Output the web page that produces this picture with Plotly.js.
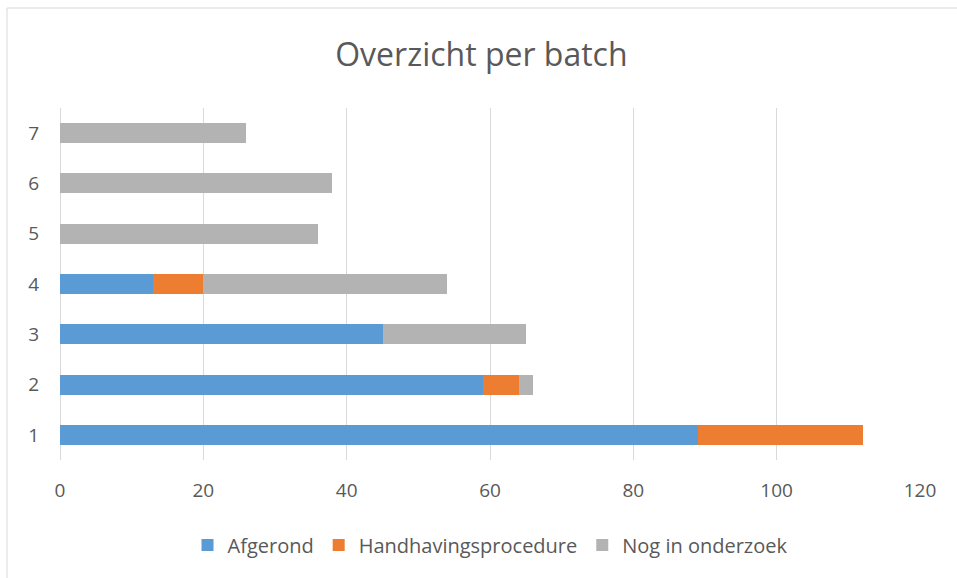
<!DOCTYPE html>
<html>
<head>
<meta charset="utf-8">
<script src="https://cdn.plot.ly/plotly-3.0.1.min.js"></script>
<style>html,body{margin:0;padding:0;background:#fff;}#chart{width:957px;height:578px;}</style>
</head>
<body>
<div id="chart"></div>
<script>
var batches = ['1', '2', '3', '4', '5', '6', '7'];
var afgerond = [89, 59, 45, 13, 0, 0, 0];
var handhaving = [23, 5, 0, 7, 0, 0, 0];
var onderzoek = [0, 2, 20, 34, 36, 38, 26];
var seriesNames = ['Afgerond', 'Handhavingsprocedure', 'Nog in onderzoek'];
var colors = ['#5b9bd5', '#ed7d31', '#b3b3b3'];

var FONT = 'Open Sans, sans-serif';
var TXT = '#595959';

var data = [afgerond, handhaving, onderzoek].map(function (vals, i) {
  return {
    type: 'bar', orientation: 'h',
    x: vals, y: batches, name: seriesNames[i],
    marker: {color: colors[i], line: {width: 0}},
    hoverinfo: 'x+name'
  };
});

var layout = {
  width: 957, height: 578,
  barmode: 'stack', bargap: 0.6,
  paper_bgcolor: '#fff', plot_bgcolor: '#fff',
  margin: {l: 60, r: 37, t: 108, b: 118},
  font: {family: FONT, color: TXT},
  title: {text: 'Overzicht per batch', font: {family: FONT, size: 32, color: TXT},
          x: 0.503, xref: 'container', xanchor: 'center', y: 1 - 55 / 578, yref: 'container', yanchor: 'middle'},
  xaxis: {range: [0, 120], dtick: 20, tick0: 0, showgrid: true, gridcolor: '#d9d9d9', gridwidth: 1,
          zeroline: true, zerolinecolor: '#d9d9d9', zerolinewidth: 1, showline: false, ticks: '',
          tickfont: {family: FONT, size: 19, color: TXT}, ticklabelstandoff: 17, fixedrange: true},
  yaxis: {type: 'category', showgrid: false, zeroline: false, showline: false, ticks: '',
          tickfont: {family: FONT, size: 19, color: TXT}, ticklabelstandoff: 20, fixedrange: true},
  legend: {orientation: 'h', x: 0.5, xanchor: 'center', y: (460 - 545) / 352, yanchor: 'middle',
           font: {family: FONT, size: 20, color: TXT}, traceorder: 'normal', itemwidth: 30},
  showlegend: true,
  shapes: [{type: 'rect', xref: 'paper', yref: 'paper', x0: (7 - 60) / 860, x1: 2, y0: -2, y1: (460 - 8) / 352,
            line: {color: '#d9d9d9', width: 1}, fillcolor: 'rgba(0,0,0,0)', layer: 'below'}]
};

Plotly.newPlot('chart', data, layout, {displayModeBar: false, staticPlot: true});
</script>
</body>
</html>
